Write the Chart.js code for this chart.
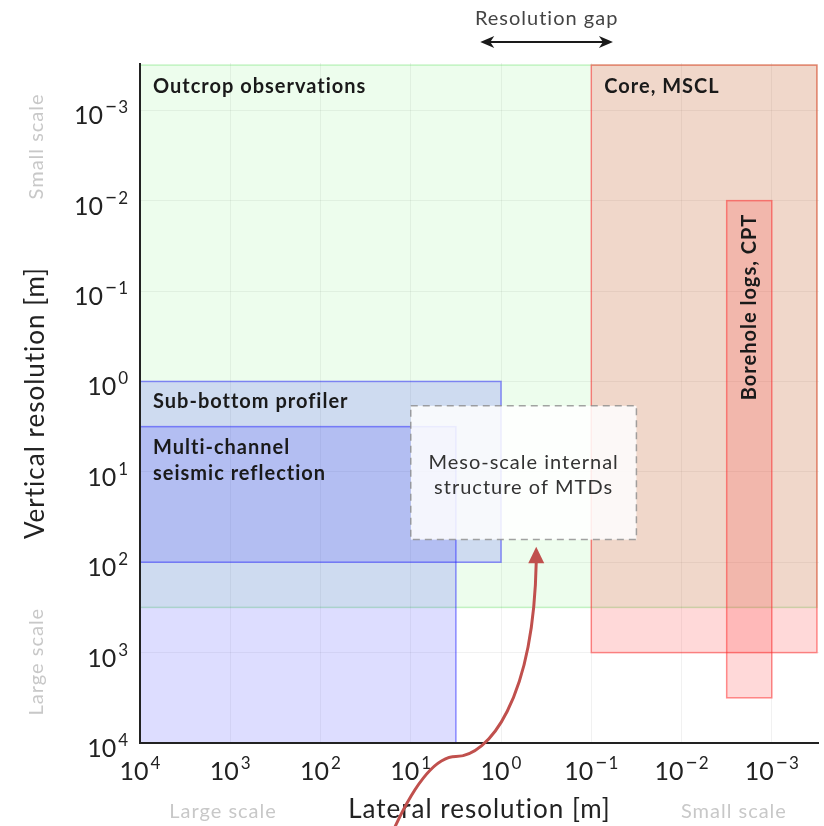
<!DOCTYPE html>
<html>
<head>
<meta charset="utf-8">
<script src="https://cdn.jsdelivr.net/npm/chart.js@4/dist/chart.umd.min.js"></script>
<style>
  html, body { margin: 0; padding: 0; background: #fff; }
  #wrap { width: 824px; height: 826px; }
</style>
</head>
<body>
<div id="wrap"><canvas id="resolutionChart"></canvas></div>
<script>
// decades on both axes (powers of ten, metres)
const tickExponents = [4, 3, 2, 1, 0, -1, -2, -3];
const axisMinExp = -3.5;
const axisMaxExp = 4;

// survey methods: lateral range and vertical range in metres
const methodNames = ['Outcrop observations', 'Core, MSCL', 'Borehole logs, CPT', 'Sub-bottom profiler', 'Multi-channel seismic reflection'];
const lateralFrom = [1e4, 1e-1, 10 ** -2.5, 1e4, 1e4];
const lateralTo = [10 ** -3.5, 10 ** -3.5, 1e-3, 1e0, 10 ** 0.5];
const verticalFrom = [10 ** -3.5, 10 ** -3.5, 1e-2, 1e0, 10 ** 0.5];
const verticalTo = [10 ** 2.5, 1e3, 10 ** 3.5, 1e2, 1e4];
const methodKind = ['outcrop', 'core', 'core', 'seismic', 'seismic'];

// the target: meso-scale structure of MTDs
const mesoLateral = [1e1, 10 ** -1.5];
const mesoVertical = [10 ** 0.27, 10 ** 1.75];

// resolution gap (lateral)
const gapLateral = [10 ** 0.23, 10 ** -1.24];

const kindStyle = {
    outcrop: { fill: 'rgba(0, 230, 0, 0.07)', stroke: 'rgba(0, 200, 0, 0.22)' },
    core:    { fill: 'rgba(255, 0, 0, 0.15)',  stroke: 'rgba(255, 50, 50, 0.55)' },
    seismic: { fill: 'rgba(30, 30, 255, 0.15)', stroke: 'rgba(40, 40, 255, 0.5)' }
};

const FONT = 'Lato, "Open Sans", sans-serif';

function px(scale, exp) {
    return scale.getPixelForValue(10 ** exp);
}

// "10" with a raised exponent; the minus is set a bit larger, like TeX's math minus
function drawPower(ctx, exp, x, y, align) {
    const base = '10';
    const minus = exp < 0 ? '\u2212' : '';
    const digits = String(Math.abs(exp));
    ctx.letterSpacing = '0px';
    ctx.font = '25px ' + FONT;
    const wb = ctx.measureText(base).width;
    ctx.font = '21px ' + FONT;
    const wm = minus ? ctx.measureText(minus).width + 1 : 0;
    ctx.font = '17px ' + FONT;
    const wd = ctx.measureText(digits).width;
    const total = wb + 2 + wm + wd;
    const left = align === 'right' ? x - total : x - total / 2;
    ctx.fillStyle = '#222';
    ctx.textAlign = 'left';
    ctx.textBaseline = 'alphabetic';
    ctx.font = '25px ' + FONT;
    ctx.fillText(base, left, y);
    if (minus) {
        ctx.font = '21px ' + FONT;
        ctx.fillText(minus, left + wb + 2, y - 10);
    }
    ctx.font = '17px ' + FONT;
    ctx.fillText(digits, left + wb + 2 + wm, y - 11);
}

const boxesPlugin = {
    id: 'boxes',
    beforeDraw(chart) {
        // wider letter fit, closer to the LaTeX sans face of the original
        chart.ctx.letterSpacing = '1px';
    },
    beforeDatasetsDraw(chart) {
        const { ctx, chartArea, scales: { x, y } } = chart;
        ctx.save();
        ctx.beginPath();
        ctx.rect(chartArea.left, chartArea.top - 1, chartArea.width + 1, chartArea.height + 1);
        ctx.clip();

        for (let i = 0; i < methodNames.length; i++) {
            const x0 = x.getPixelForValue(lateralFrom[i]);
            const x1 = x.getPixelForValue(lateralTo[i]);
            const y0 = y.getPixelForValue(verticalFrom[i]);
            const y1 = y.getPixelForValue(verticalTo[i]);
            const st = kindStyle[methodKind[i]];
            ctx.fillStyle = st.fill;
            ctx.fillRect(x0, y0, x1 - x0, y1 - y0);
            ctx.strokeStyle = st.stroke;
            ctx.lineWidth = 1.5;
            ctx.strokeRect(x0, y0, x1 - x0, y1 - y0);
        }

        // meso-scale box
        const mx0 = x.getPixelForValue(mesoLateral[0]);
        const mx1 = x.getPixelForValue(mesoLateral[1]);
        const my0 = y.getPixelForValue(mesoVertical[0]);
        const my1 = y.getPixelForValue(mesoVertical[1]);
        ctx.fillStyle = 'rgba(255, 255, 255, 0.85)';
        ctx.fillRect(mx0, my0, mx1 - mx0, my1 - my0);
        ctx.setLineDash([7, 5]);
        ctx.strokeStyle = 'rgba(140, 140, 140, 0.8)';
        ctx.lineWidth = 1.5;
        ctx.strokeRect(mx0, my0, mx1 - mx0, my1 - my0);
        ctx.setLineDash([]);
        ctx.restore();

        // axis lines on top of the fills
        ctx.save();
        ctx.strokeStyle = '#222';
        ctx.lineWidth = 2;
        ctx.beginPath();
        ctx.moveTo(chartArea.left, chartArea.top);
        ctx.lineTo(chartArea.left, chartArea.bottom);
        ctx.lineTo(chartArea.right, chartArea.bottom);
        ctx.stroke();
        ctx.restore();
    },
    afterDraw(chart) {
        const { ctx, chartArea, scales: { x, y } } = chart;
        ctx.save();

        // tick labels as powers of ten
        tickExponents.forEach(e => {
            drawPower(ctx, e, x.getPixelForValue(10 ** e), chartArea.bottom + 37, 'center');
            drawPower(ctx, e, chartArea.left - 12, y.getPixelForValue(10 ** e) + 14, 'right');
        });
        ctx.letterSpacing = '1px';

        // method labels
        const label = (text, lx, ly) => ctx.fillText(text, lx, ly);
        ctx.fillStyle = '#1a1a1a';
        ctx.textAlign = 'left';
        ctx.textBaseline = 'alphabetic';
        ctx.font = 'bold 20px ' + FONT;
        const left = (i) => Math.min(x.getPixelForValue(lateralFrom[i]), x.getPixelForValue(lateralTo[i]));
        const top = (i) => Math.min(y.getPixelForValue(verticalFrom[i]), y.getPixelForValue(verticalTo[i]));
        label(methodNames[0], left(0) + 13, top(0) + 28);
        label(methodNames[1], left(1) + 13, top(1) + 28);
        label(methodNames[3], left(3) + 13, top(3) + 27);
        label('Multi-channel', left(4) + 13, top(4) + 27);
        label('seismic reflection', left(4) + 13, top(4) + 53);

        // borehole label, rotated
        const bx = (x.getPixelForValue(lateralFrom[2]) + x.getPixelForValue(lateralTo[2])) / 2;
        ctx.save();
        ctx.translate(bx, top(2) + 13);
        ctx.rotate(-Math.PI / 2);
        ctx.textAlign = 'right';
        ctx.textBaseline = 'middle';
        ctx.fillText(methodNames[2], 0, 0);
        ctx.restore();

        // meso-scale text
        const mcx = (x.getPixelForValue(mesoLateral[0]) + x.getPixelForValue(mesoLateral[1])) / 2;
        const mtop = y.getPixelForValue(mesoVertical[0]);
        ctx.font = '20px ' + FONT;
        ctx.fillStyle = '#333';
        ctx.textAlign = 'center';
        ctx.fillText('Meso-scale internal', mcx, mtop + 63);
        ctx.fillText('structure of MTDs', mcx, mtop + 88);

        // resolution gap
        const g0 = x.getPixelForValue(gapLateral[0]);
        const g1 = x.getPixelForValue(gapLateral[1]);
        const gy = chartArea.top - 21;
        ctx.font = '20px ' + FONT;
        ctx.fillStyle = '#444';
        ctx.fillText('Resolution gap', (g0 + g1) / 2, chartArea.top - 38);
        ctx.strokeStyle = '#1a1a1a';
        ctx.fillStyle = '#1a1a1a';
        ctx.lineWidth = 2;
        ctx.beginPath();
        ctx.moveTo(g0 + 6, gy);
        ctx.lineTo(g1 - 6, gy);
        ctx.stroke();
        [[g0, 1], [g1, -1]].forEach(([gx, d]) => {
            ctx.beginPath();
            ctx.moveTo(gx, gy);
            ctx.lineTo(gx + d * 14, gy - 6);
            ctx.lineTo(gx + d * 10, gy);
            ctx.lineTo(gx + d * 14, gy + 6);
            ctx.closePath();
            ctx.fill();
        });

        // scale hints
        ctx.fillStyle = '#c8c8c8';
        ctx.font = '20px ' + FONT;
        ctx.textAlign = 'center';
        ctx.textBaseline = 'middle';
        ctx.fillText('Large scale', px(x, 3.08), 812);
        ctx.fillText('Small scale', px(x, -2.58), 812);
        [['Small scale', -2.6], ['Large scale', 3.1]].forEach(([t, e]) => {
            ctx.save();
            ctx.translate(37, px(y, e));
            ctx.rotate(-Math.PI / 2);
            ctx.fillText(t, 0, 0);
            ctx.restore();
        });

        // red curved arrow pointing at the meso-scale box
        const P = (ex, ey) => [px(x, ex), px(y, ey)];
        const p0 = P(1.19, 4.96), c1 = P(0.91, 4.35), c2 = P(0.69, 4.15), p1 = P(0.50, 4.15);
        const c3 = P(0.14, 4.15), c4 = P(-0.36, 3.53), p2 = P(-0.39, 2.0), tip = P(-0.39, 1.83);
        ctx.strokeStyle = '#c0504d';
        ctx.fillStyle = '#c0504d';
        ctx.lineWidth = 3;
        ctx.beginPath();
        ctx.moveTo(p0[0], p0[1]);
        ctx.bezierCurveTo(c1[0], c1[1], c2[0], c2[1], p1[0], p1[1]);
        ctx.bezierCurveTo(c3[0], c3[1], c4[0], c4[1], p2[0], p2[1]);
        ctx.stroke();
        ctx.beginPath();
        ctx.moveTo(tip[0], tip[1]);
        ctx.lineTo(tip[0] + 8, p2[1] + 1);
        ctx.lineTo(tip[0] - 8, p2[1] + 1);
        ctx.closePath();
        ctx.fill();

        ctx.restore();
    }
};

const decadeTicks = (scale) => {
    scale.ticks = tickExponents.map(e => ({ value: 10 ** e }));
};

const ctx = document.getElementById('resolutionChart').getContext('2d');
const resolutionChart = new Chart(ctx, {
    type: 'scatter',
    data: { datasets: [] },
    options: {
        responsive: true,
        maintainAspectRatio: false,
        animation: false,
        layout: { padding: { top: 63, right: 5, left: 0, bottom: 0 } },
        plugins: {
            legend: { display: false },
            tooltip: { enabled: false }
        },
        scales: {
            x: {
                type: 'logarithmic',
                reverse: true,
                min: 10 ** axisMinExp,
                max: 10 ** axisMaxExp,
                afterBuildTicks: decadeTicks,
                afterFit: (scale) => { scale.height = 83; },
                ticks: { display: false },
                grid: { color: 'rgba(0, 0, 0, 0.055)', drawTicks: false },
                border: { display: false },
                title: {
                    display: true,
                    text: 'Lateral resolution [m]',
                    color: '#222',
                    font: { family: FONT, size: 26 },
                    padding: { bottom: 1, top: 0 }
                }
            },
            y: {
                type: 'logarithmic',
                reverse: true,
                min: 10 ** axisMinExp,
                max: 10 ** axisMaxExp,
                afterBuildTicks: decadeTicks,
                afterFit: (scale) => { scale.width = 140; },
                ticks: { display: false },
                grid: { color: 'rgba(0, 0, 0, 0.055)', drawTicks: false },
                border: { display: false },
                title: {
                    display: true,
                    text: 'Vertical resolution [m]',
                    color: '#222',
                    font: { family: FONT, size: 26 },
                    padding: { top: 20, bottom: 0 }
                }
            }
        }
    },
    plugins: [boxesPlugin]
});
</script>
</body>
</html>
